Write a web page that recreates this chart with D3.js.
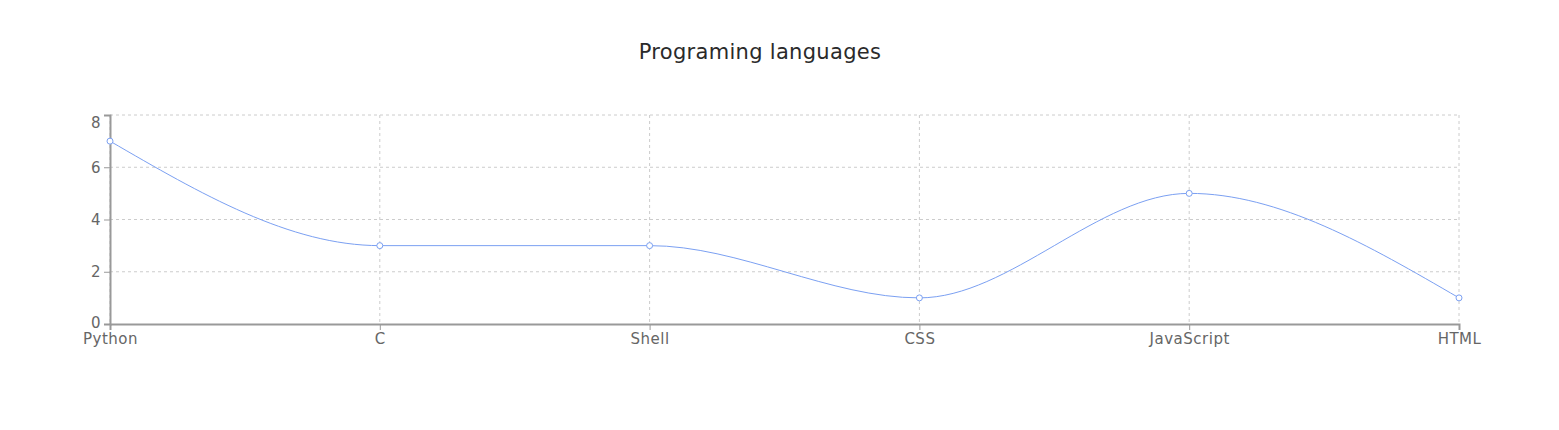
<!DOCTYPE html>
<html><head><meta charset="utf-8">
<script src="https://cdn.jsdelivr.net/npm/d3@7"></script>
<style>body{margin:0;background:#fff;font-family:"DejaVu Sans",sans-serif;}</style>
</head><body><svg id="c" width="1559" height="430"></svg>
<script>
const categories = ["Python","C","Shell","CSS","JavaScript","HTML"];
const values = [7,3,3,1,5,1];
const yTicks = [0,2,4,6,8];
const title = "Programing languages";

const svg = d3.select("#c");
const m = {l:110, r:1459, t:115, b:324};
const x = d3.scalePoint().domain(categories).range([m.l, m.r]);
const y = d3.scaleLinear().domain([0,8]).range([m.b, m.t]);

svg.append("text").attr("x",760).attr("y",59).attr("text-anchor","middle")
  .attr("font-size",21).attr("letter-spacing",0.3).attr("fill","#2a2a2a").attr("font-family","'DejaVu Sans',sans-serif").text(title);

// grid
const g = svg.append("g").attr("stroke","#ccc").attr("stroke-dasharray","3 3");
yTicks.filter(d=>d>0).forEach(t=>g.append("line").attr("x1",m.l).attr("x2",m.r).attr("y1",y(t)).attr("y2",y(t)));
categories.forEach(c=>g.append("line").attr("x1",x(c)).attr("x2",x(c)).attr("y1",m.t).attr("y2",m.b));

const xa = svg.append("g").attr("transform",`translate(0,${m.b})`)
  .call(d3.axisBottom(x).tickSize(6).tickPadding(3));
const ya = svg.append("g").attr("transform",`translate(${m.l},0)`)
  .call(d3.axisLeft(y).tickValues(yTicks).tickSize(6).tickPadding(3));
[xa,ya].forEach(a=>{
  a.select(".domain").attr("stroke","#999").attr("stroke-width",2);
  a.selectAll(".tick line").attr("stroke","#999");
  a.selectAll("text").attr("fill","#666").attr("font-size",15).attr("letter-spacing",0.5).attr("font-family","'DejaVu Sans',sans-serif");
});
ya.selectAll(".tick").filter(d=>d===8).select("text").attr("dy","0.85em");
ya.selectAll(".tick").filter(d=>d===0).select("text").attr("dy","0.2em");

const line = d3.line().x((d,i)=>x(categories[i])).y(d=>y(d)).curve(d3.curveMonotoneX);
svg.append("path").datum(values).attr("d",line).attr("fill","none").attr("stroke","#7ba0f2").attr("stroke-width",1);
svg.selectAll("circle.dot").data(values).enter().append("circle")
  .attr("cx",(d,i)=>x(categories[i])).attr("cy",d=>y(d)).attr("r",3)
  .attr("fill","#fff").attr("stroke","#7ba0f2");
</script></body></html>
